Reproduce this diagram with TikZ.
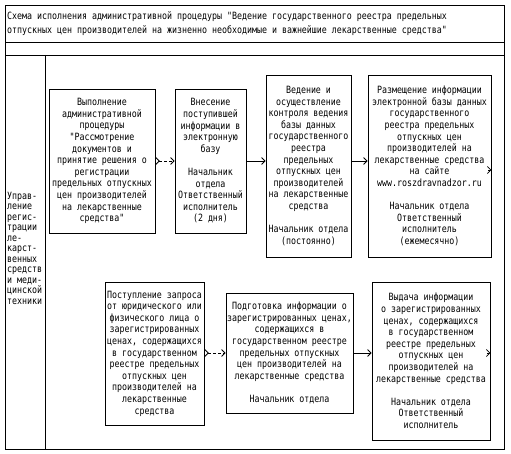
\documentclass[tikz,border=0pt]{standalone}
\usepackage{fontspec}
\setmainfont{DejaVu Sans Mono}[FakeStretch=0.83, Ligatures=TeXOff]
\usetikzlibrary{positioning, calc, arrows.meta}

\newcommand{\boxfont}{\fontsize{10}{11.6}\selectfont}

\tikzset{
  stepbox/.style={draw, line width=0.8pt, align=center, inner sep=1pt, font=\boxfont},
  flowarrow/.style={line width=0.8pt, -{Straight Barb[length=3.5pt,width=7pt]}},
  dasharrow/.style={line width=0.8pt, dash pattern=on 3pt off 2pt,
    {Straight Barb[reversed,length=3.5pt,width=7pt]}-{Straight Barb[length=3.5pt,width=7pt]}},
}

\begin{document}
\begin{tikzpicture}[x=1pt,y=-1pt]

  % ==========================================
  % Frame and table lines
  % ==========================================
  \fill[white] (0,0) rectangle (511,454);
  \draw[line width=0.8pt] (5,5) rectangle (504,449);
  \draw[line width=0.8pt] (5,42) -- (504,42);
  \draw[line width=0.8pt] (5,55) -- (504,55);
  \draw[line width=0.8pt] (45,55) -- (45,449);

  % title
  \node[anchor=west, align=left, inner sep=0pt, font=\fontsize{10}{14.5}\selectfont] (title) at (7,23.5)
    {Схема исполнения административной процедуры "Ведение государственного реестра предельных\\
     отпускных цен производителей на жизненно необходимые и важнейшие лекарственные средства"};

  % left column
  \node[anchor=north west, align=left, inner sep=0pt, font=\fontsize{10}{10.5}\selectfont] (upravl) at (7,192)
    {Управ-\\ление\\регис-\\трации\\ле-\\карст-\\венных\\средств\\и меди-\\цинской\\техники};

  % ==========================================
  % Top row
  % ==========================================
  \node[stepbox, minimum width=106pt, minimum height=144pt] (vypoln) at (102,161)
    {Выполнение\\административной\\процедуры\\"Рассмотрение\\документов и\\принятие решения о\\регистрации\\предельных отпускных\\цен производителей\\на лекарственные\\средства"};
  \node[stepbox, minimum width=71pt, minimum height=144pt] (vnesenie) at (210.5,161)
    {Внесение\\поступившей\\информации в\\электронную\\базу\\[11.6pt]Начальник\\отдела\\Ответственный\\исполнитель\\(2 дня)};
  \node[stepbox, minimum width=85pt, minimum height=182pt] (vedenie) at (308.5,166)
    {Ведение и\\осуществление\\контроля ведения\\базы данных\\государственного\\реестра\\предельных\\отпускных цен\\производителей\\на лекарственные\\средства\\[11.6pt]Начальник отдела\\(постоянно)};
  \node[stepbox, minimum width=123pt, minimum height=182pt] (razmesch) at (429.5,166)
    {Размещение информации\\электронной базы данных\\государственного\\реестра предельных\\отпускных цен\\производителей на\\лекарственные средства\\на сайте\\www.roszdravnadzor.ru\\[11.6pt]Начальник отдела\\Ответственный\\исполнитель\\(ежемесячно)};

  \draw[dasharrow] (vypoln.east) -- (vnesenie.west);
  \draw[flowarrow] (vnesenie.east) -- (vnesenie.east -| vedenie.west);
  \draw[flowarrow] (vedenie.east |- vnesenie.east) -- (razmesch.west |- vnesenie.east);
  \coordinate (razmend) at ([yshift=-4pt]razmesch.east);
  \draw[flowarrow] ([xshift=-3pt]razmend) -- (razmend);

  % ==========================================
  % Bottom row
  % ==========================================
  \node[stepbox, minimum width=99pt, minimum height=143pt] (postupl) at (154.5,353.5)
    {Поступление запроса\\от юридического или\\физического лица о\\зарегистрированных\\ценах, содержащихся\\в государственном\\реестре предельных\\отпускных цен\\производителей на\\лекарственные\\средства};
  \node[stepbox, minimum width=127pt, minimum height=120pt] (podgot) at (289.5,353)
    {Подготовка информации о\\зарегистрированных ценах,\\содержащихся в\\государственном реестре\\предельных отпускных\\цен производителей на\\лекарственные средства\\[11.6pt]Начальник отдела};
  \node[stepbox, minimum width=118pt, minimum height=158pt] (vydacha) at (431,361)
    {Выдача информации\\о зарегистрированных\\ценах, содержащихся\\в государственном\\реестре предельных\\отпускных цен\\производителей на\\лекарственные средства\\[11.6pt]Начальник отдела\\Ответственный\\исполнитель};

  \draw[dasharrow] (postupl.east |- podgot.west) -- (podgot.west);
  \draw[flowarrow] (podgot.east) -- (podgot.east -| vydacha.west);
  \coordinate (vydend) at (vydacha.east |- podgot.east);
  \draw[flowarrow] ([xshift=-3pt]vydend) -- (vydend);

\end{tikzpicture}
\end{document}
